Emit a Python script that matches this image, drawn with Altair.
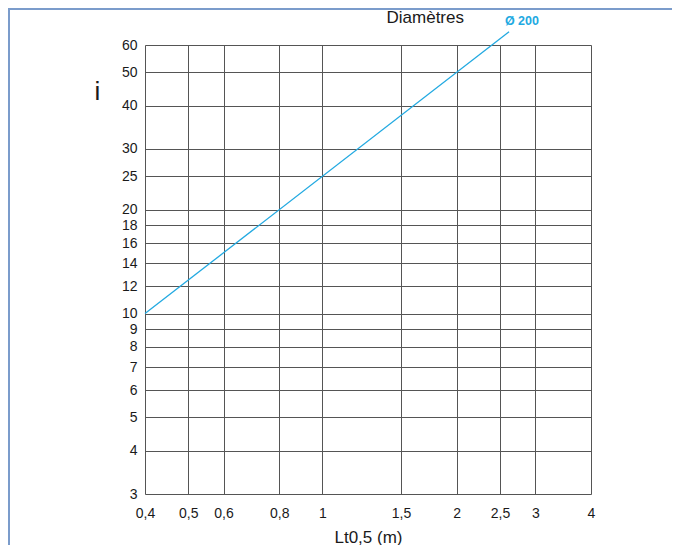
import altair as alt
import pandas as pd

# Data
x_ticks = [0.4, 0.5, 0.6, 0.8, 1, 1.5, 2, 2.5, 3, 4]
y_ticks = [3, 4, 5, 6, 7, 8, 9, 10, 12, 14, 16, 18, 20, 25, 30, 40, 50, 60]
line_L = [0.4, 2.62]
line_i = [10, 65.5]
label_text = ["Ø 200"]
label_L = [2.80]
label_i = [70.5]
header_text = ["Diamètres"]
header_L = [1.70]
header_i = [72]

line_df = pd.DataFrame({"L": line_L, "i": line_i})
lab_df = pd.DataFrame({"L": label_L, "i": label_i, "t": label_text})
head_df = pd.DataFrame({"L": header_L, "i": header_i, "t": header_text})

xs = alt.Scale(type="log", domain=[0.4, 4], nice=False)
ys = alt.Scale(type="log", domain=[3, 60], nice=False)

FONT = "Liberation Sans"

x_axis = alt.Axis(
    values=x_ticks, title="Lt0,5 (m)", grid=True, gridColor="#555", gridWidth=1,
    domain=False, ticks=False, labelPadding=12, labelFontSize=14, labelColor="#1a1a1a",
    labelFont=FONT, labelExpr="replace(toString(datum.value), '.', ',')",
    titleFont=FONT, titleFontSize=17, titleFontWeight="normal", titleColor="#1a1a1a",
    titleY=43, titleBaseline="middle", labelFlush=False, labelOverlap=False,
)
y_axis = alt.Axis(
    values=y_ticks, title="i", grid=True, gridColor="#555", gridWidth=1,
    domain=False, ticks=False, labelPadding=8, labelFontSize=14, labelColor="#1a1a1a",
    labelFont=FONT, titleFont=FONT, titleFontSize=26, titleFontWeight="normal",
    titleColor="#1a1a1a", titleAngle=0, titleX=-48, titleY=46, titleAlign="center",
    titleBaseline="middle", labelFlush=False, labelOverlap=False,
)

line = alt.Chart(line_df).mark_line(color="#22a9e1", strokeWidth=1.3, clip=False).encode(
    x=alt.X("L:Q", scale=xs, axis=x_axis),
    y=alt.Y("i:Q", scale=ys, axis=y_axis),
)

lab = alt.Chart(lab_df).mark_text(
    color="#22a9e1", fontWeight="bold", fontSize=12.5, font=FONT, clip=False,
    align="center", baseline="middle",
).encode(x=alt.X("L:Q", scale=xs), y=alt.Y("i:Q", scale=ys), text="t:N")

head = alt.Chart(head_df).mark_text(
    color="#1a1a1a", fontSize=17, font=FONT, clip=False, align="center", baseline="middle",
).encode(x=alt.X("L:Q", scale=xs), y=alt.Y("i:Q", scale=ys), text="t:N")

# decorative frame (top and left edges of the figure box)
frame_left = alt.Chart(line_df).mark_rule(color="#7b9ccb", strokeWidth=2).encode(
    x=alt.value(-136), y=alt.value(-36), y2=alt.value(500)
)
frame_top = alt.Chart(line_df).mark_rule(color="#7b9ccb", strokeWidth=2).encode(
    x=alt.value(-137), x2=alt.value(527), y=alt.value(-36)
)

chart = alt.layer(frame_left, frame_top, line, lab, head).properties(
    width=446, height=449,
    autosize=alt.AutoSizeParams(type="none"),
    padding={"left": 137, "top": 37, "right": 81, "bottom": 51},
).configure_view(stroke="#222", strokeWidth=2).configure(background="white")

chart.save("out.html", embed_options={"renderer": "svg", "actions": False})
